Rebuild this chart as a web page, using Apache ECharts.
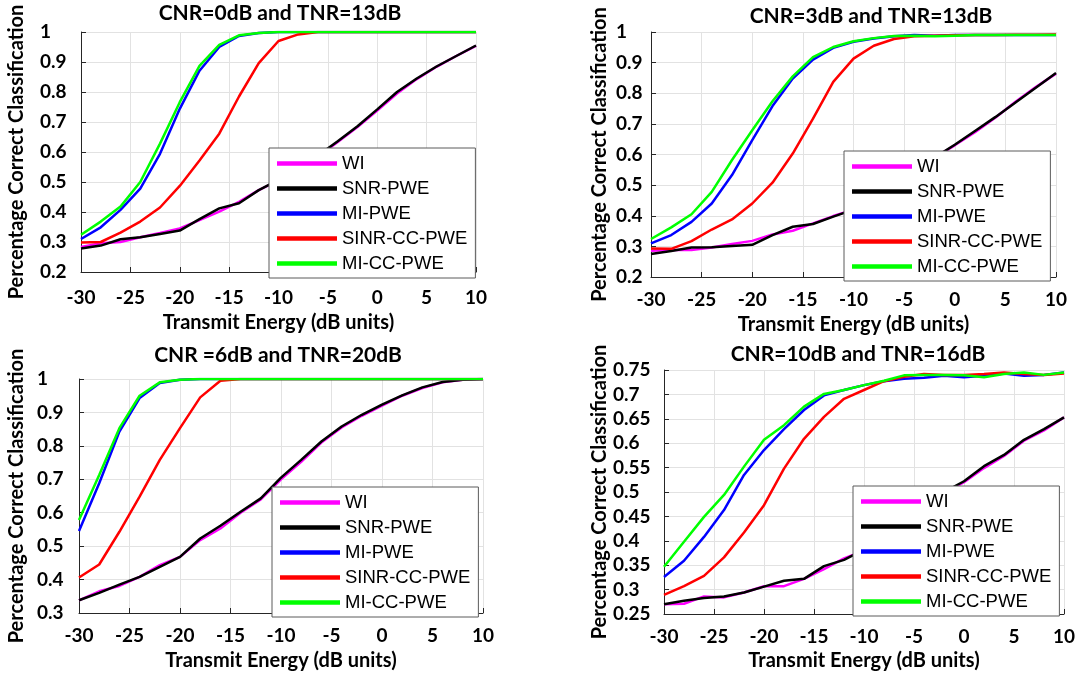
<!DOCTYPE html>
<html>
<head>
<meta charset="utf-8">
<script src="https://cdn.jsdelivr.net/npm/echarts@6/dist/echarts.min.js"></script>
<style>
  html, body { margin: 0; background: #fff; }
  #chart { width: 1080px; height: 675px; }
</style>
</head>
<body>
<div id="chart"></div>
<script>
// transmit energy (dB), one point every 2 dB
const energy = [-30, -28, -26, -24, -22, -20, -18, -16, -14, -12, -10, -8, -6, -4, -2, 0, 2, 4, 6, 8, 10];

const seriesNames = ['WI', 'SNR-PWE', 'MI-PWE', 'SINR-CC-PWE', 'MI-CC-PWE'];
const seriesColors = ['#ff00ff', '#000000', '#0000ff', '#ff0000', '#00ff00'];

// CNR=0dB, TNR=13dB
const wi1 = [0.283, 0.296, 0.300, 0.316, 0.330, 0.345, 0.373, 0.401, 0.434, 0.473, 0.505, 0.540, 0.585, 0.633, 0.683, 0.738, 0.795, 0.843, 0.884, 0.920, 0.954];
const snr1 = [0.278, 0.288, 0.309, 0.316, 0.327, 0.338, 0.376, 0.412, 0.429, 0.473, 0.507, 0.542, 0.588, 0.636, 0.686, 0.742, 0.800, 0.845, 0.885, 0.920, 0.955];
const mi1 = [0.310, 0.349, 0.407, 0.478, 0.594, 0.744, 0.871, 0.950, 0.987, 0.997, 1, 1, 1, 1, 1, 1, 1, 1, 1, 1, 1];
const sinr1 = [0.298, 0.300, 0.331, 0.368, 0.415, 0.487, 0.572, 0.661, 0.785, 0.896, 0.970, 0.992, 1, 1, 1, 1, 1, 1, 1, 1, 1];
const micc1 = [0.324, 0.368, 0.418, 0.500, 0.628, 0.766, 0.887, 0.957, 0.989, 0.997, 1, 1, 1, 1, 1, 1, 1, 1, 1, 1, 1];

// CNR=3dB, TNR=13dB
const wi2 = [0.286, 0.288, 0.288, 0.296, 0.308, 0.318, 0.339, 0.351, 0.375, 0.399, 0.420, 0.450, 0.490, 0.540, 0.590, 0.630, 0.673, 0.720, 0.772, 0.820, 0.864];
const snr2 = [0.275, 0.285, 0.296, 0.297, 0.301, 0.305, 0.337, 0.364, 0.373, 0.397, 0.420, 0.450, 0.490, 0.540, 0.590, 0.632, 0.677, 0.722, 0.770, 0.818, 0.866];
const mi2 = [0.310, 0.337, 0.380, 0.440, 0.533, 0.647, 0.758, 0.848, 0.910, 0.948, 0.968, 0.979, 0.986, 0.990, 0.988, 0.990, 0.990, 0.990, 0.990, 0.990, 0.990];
const sinr2 = [0.293, 0.292, 0.317, 0.355, 0.388, 0.440, 0.508, 0.603, 0.717, 0.837, 0.913, 0.955, 0.977, 0.986, 0.988, 0.989, 0.990, 0.990, 0.991, 0.991, 0.992];
const micc2 = [0.324, 0.362, 0.405, 0.478, 0.582, 0.679, 0.774, 0.855, 0.918, 0.951, 0.970, 0.980, 0.987, 0.988, 0.986, 0.988, 0.990, 0.990, 0.990, 0.990, 0.990];

// CNR=6dB, TNR=20dB
const wi3 = [0.338, 0.365, 0.381, 0.408, 0.443, 0.468, 0.518, 0.553, 0.600, 0.640, 0.700, 0.752, 0.810, 0.855, 0.890, 0.920, 0.950, 0.973, 0.990, 0.998, 1];
const snr3 = [0.338, 0.360, 0.385, 0.408, 0.438, 0.468, 0.523, 0.561, 0.603, 0.643, 0.705, 0.758, 0.813, 0.858, 0.893, 0.923, 0.951, 0.975, 0.991, 0.998, 1];
const mi3 = [0.545, 0.688, 0.843, 0.943, 0.988, 0.998, 1, 1, 1, 1, 1, 1, 1, 1, 1, 1, 1, 1, 1, 1, 1];
const sinr3 = [0.406, 0.445, 0.543, 0.648, 0.758, 0.853, 0.945, 0.995, 1, 1, 1, 1, 1, 1, 1, 1, 1, 1, 1, 1, 1];
const micc3 = [0.578, 0.713, 0.853, 0.950, 0.990, 0.998, 1, 1, 1, 1, 1, 1, 1, 1, 1, 1, 1, 1, 1, 1, 1];

// CNR=10dB, TNR=16dB
const wi4 = [0.270, 0.271, 0.286, 0.284, 0.294, 0.307, 0.307, 0.322, 0.342, 0.364, 0.380, 0.405, 0.438, 0.468, 0.497, 0.520, 0.549, 0.574, 0.605, 0.626, 0.653];
const snr4 = [0.270, 0.277, 0.283, 0.286, 0.294, 0.306, 0.318, 0.322, 0.348, 0.361, 0.382, 0.408, 0.440, 0.470, 0.500, 0.522, 0.553, 0.576, 0.607, 0.629, 0.653];
const mi4 = [0.326, 0.359, 0.408, 0.463, 0.535, 0.586, 0.629, 0.668, 0.698, 0.709, 0.719, 0.727, 0.732, 0.734, 0.738, 0.735, 0.738, 0.743, 0.738, 0.740, 0.745];
const sinr4 = [0.289, 0.307, 0.328, 0.366, 0.417, 0.473, 0.548, 0.609, 0.654, 0.691, 0.709, 0.727, 0.736, 0.742, 0.740, 0.740, 0.742, 0.745, 0.742, 0.740, 0.743];
const micc4 = [0.347, 0.398, 0.449, 0.494, 0.552, 0.607, 0.637, 0.675, 0.701, 0.709, 0.719, 0.728, 0.739, 0.740, 0.740, 0.739, 0.735, 0.742, 0.745, 0.740, 0.745];

const panelTitles = ['CNR=0dB and TNR=13dB', 'CNR=3dB and TNR=13dB', 'CNR =6dB and TNR=20dB', 'CNR=10dB and TNR=16dB'];
const panelData = [
  [wi1, snr1, mi1, sinr1, micc1],
  [wi2, snr2, mi2, sinr2, micc2],
  [wi3, snr3, mi3, sinr3, micc3],
  [wi4, snr4, mi4, sinr4, micc4]
];
const yRanges = [[0.2, 1, 0.1], [0.2, 1, 0.1], [0.3, 1, 0.1], [0.25, 0.75, 0.05]];

// layout of each panel (px)
const layout = [
  {grid: {left: 81, top: 32, width: 395, height: 240}, titleX: 280, titleY: 3, legend: {left: 269, top: 148}, yMargin: 41, yGap: 54, xGap: 41, xMargin: 16},
  {grid: {left: 651, top: 32, width: 405, height: 245}, titleX: 871, titleY: 6, legend: {left: 844, top: 151}, yMargin: 35, yGap: 41, xGap: 38, xMargin: 13},
  {grid: {left: 79, top: 379, width: 404, height: 234}, titleX: 278, titleY: 345, legend: {left: 272, top: 487}, yMargin: 42, yGap: 52, xGap: 38, xMargin: 13},
  {grid: {left: 664, top: 370, width: 400, height: 244}, titleX: 858, titleY: 344, legend: {left: 853, top: 486}, yMargin: 51, yGap: 50, xGap: 37, xMargin: 13}
];

const boldFont = {fontFamily: 'Lato', fontWeight: 'bold', color: '#000'};
const axisDark = '#262626';

const option = {
  animation: false,
  backgroundColor: '#fff',
  title: [], grid: [], xAxis: [], yAxis: [], legend: [], series: []
};

layout.forEach((p, i) => {
  option.title.push({
    text: panelTitles[i],
    left: p.titleX, top: p.titleY, textAlign: 'center', padding: 0,
    textStyle: Object.assign({fontSize: 21}, boldFont)
  });
  option.grid.push(Object.assign({containLabel: false}, p.grid));
  option.xAxis.push({
    type: 'value', gridIndex: i, min: -30, max: 10, interval: 5,
    name: 'Transmit Energy (dB units)', nameLocation: 'middle', nameGap: p.xGap,
    nameTextStyle: Object.assign({fontSize: 20}, boldFont),
    axisLine: {onZero: false, lineStyle: {color: axisDark, width: 1}},
    axisTick: {inside: true, length: 5, lineStyle: {color: axisDark}},
    splitLine: {show: true, lineStyle: {color: '#e2e2e2', width: 1}},
    axisLabel: Object.assign({fontSize: 19, margin: p.xMargin}, boldFont)
  });
  option.yAxis.push({
    type: 'value', gridIndex: i, min: yRanges[i][0], max: yRanges[i][1], interval: yRanges[i][2],
    name: 'Percentage Correct Classification', nameLocation: 'middle', nameGap: p.yGap,
    nameTextStyle: Object.assign({fontSize: 20}, boldFont),
    axisLine: {show: true, onZero: false, lineStyle: {color: axisDark, width: 1}},
    axisTick: {show: true, inside: true, length: 5, lineStyle: {color: axisDark}},
    splitLine: {show: true, lineStyle: {color: '#e2e2e2', width: 1}},
    axisLabel: Object.assign({fontSize: 19, margin: p.yMargin, align: 'left'}, boldFont)
  });
  option.legend.push({
    data: seriesNames, left: p.legend.left, top: p.legend.top, orient: 'vertical',
    icon: 'rect', itemWidth: 60, itemHeight: 4.5, itemGap: 6,
    padding: [6, 8, 5, 8], backgroundColor: '#fff',
    borderColor: '#5a5a5a', borderWidth: 1, selectedMode: false,
    textStyle: {fontFamily: 'Liberation Sans', fontSize: 18.5, color: '#000'}
  });
  panelData[i].forEach((vals, k) => {
    option.series.push({
      name: seriesNames[k], type: 'line', xAxisIndex: i, yAxisIndex: i,
      data: energy.map((e, j) => [e, vals[j]]),
      showSymbol: false, symbol: 'none',
      color: seriesColors[k],
      lineStyle: {color: seriesColors[k], width: 2.5}
    });
  });
});

const chart = echarts.init(document.getElementById('chart'));
chart.setOption(option);
window.addEventListener('resize', () => chart.resize());
</script>
</body>
</html>
